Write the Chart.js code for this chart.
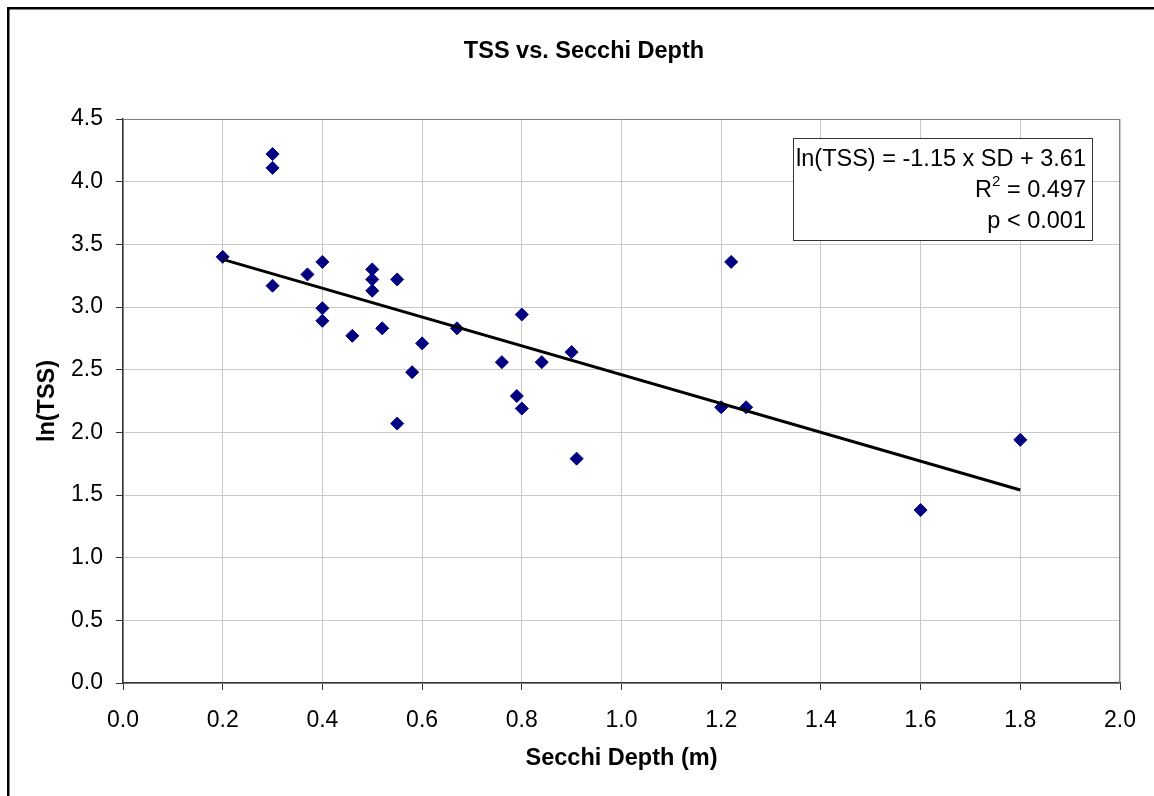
<!DOCTYPE html>
<html>
<head>
<meta charset="utf-8">
<script src="https://cdn.jsdelivr.net/npm/chart.js@4.4.0/dist/chart.umd.min.js"></script>
<style>
  body { margin: 0; background: #fff; }
  canvas { display: block; }
</style>
</head>
<body>
<canvas id="tssChart" width="1154" height="796"></canvas>
<script>
  const FONT = '"Liberation Sans", Arial, sans-serif';

  // observed points
  const secchiDepth = [0.2, 0.3, 0.3, 0.3, 0.37, 0.4, 0.4, 0.4, 0.46, 0.5, 0.5, 0.5, 0.52, 0.55, 0.55,
    0.58, 0.6, 0.67, 0.76, 0.79, 0.8, 0.8, 0.84, 0.9, 0.91, 1.2, 1.22, 1.25, 1.6, 1.8];
  const lnTSS = [3.40, 4.22, 4.11, 3.17, 3.26, 3.36, 2.99, 2.89, 2.77, 3.30, 3.22, 3.13, 2.83, 3.22, 2.07,
    2.48, 2.71, 2.83, 2.56, 2.29, 2.94, 2.19, 2.56, 2.64, 1.79, 2.20, 3.36, 2.20, 1.38, 1.94];

  // regression line end points
  const fitDepth = [0.2, 1.8];
  const fitLnTSS = [3.38, 1.54];

  const chartTitle = 'TSS vs. Secchi Depth';
  const fitEquation = 'ln(TSS) = -1.15 x SD + 3.61';
  const rSquared = '0.497';
  const pValue = 'p < 0.001';

  // frame, title and the stats box
  const extras = {
    id: 'extras',
    beforeDraw(chart) {
      const ctx = chart.ctx;
      ctx.save();
      ctx.fillStyle = '#fff';
      ctx.fillRect(0, 0, chart.width, chart.height);
      ctx.fillStyle = '#000';
      ctx.fillRect(7, 7, 2.5, chart.height);
      ctx.fillRect(7, 7, chart.width, 2.5);
      ctx.font = 'bold 23.5px ' + FONT;
      ctx.textAlign = 'center';
      ctx.textBaseline = 'middle';
      ctx.fillText(chartTitle, 584, 52);
      ctx.restore();
    },
    beforeDatasetsDraw(chart) {
      const { ctx, chartArea: a } = chart;
      ctx.save();
      ctx.strokeStyle = '#808080';
      ctx.lineWidth = 1;
      ctx.beginPath();
      ctx.moveTo(a.left, a.top + 0.5);
      ctx.lineTo(a.right - 0.5, a.top + 0.5);
      ctx.lineTo(a.right - 0.5, a.bottom);
      ctx.stroke();
      ctx.restore();
    },
    afterDraw(chart) {
      const ctx = chart.ctx;
      ctx.save();
      ctx.fillStyle = '#fff';
      ctx.fillRect(793, 138, 299, 102);
      ctx.strokeStyle = '#333';
      ctx.lineWidth = 1;
      ctx.strokeRect(793.5, 138.5, 299, 102);

      ctx.fillStyle = '#000';
      ctx.textBaseline = 'middle';
      ctx.textAlign = 'right';
      const rightX = 1086;
      ctx.font = '23.5px ' + FONT;
      ctx.fillText(fitEquation, rightX, 160);
      ctx.fillText(pValue, rightX, 222);

      // R² with a raised 2
      const rest = ' = ' + rSquared;
      const restW = ctx.measureText(rest).width;
      ctx.fillText(rest, rightX, 191);
      ctx.font = '15px ' + FONT;
      const supW = ctx.measureText('2').width;
      ctx.fillText('2', rightX - restW, 182);
      ctx.font = '23.5px ' + FONT;
      ctx.fillText('R', rightX - restW - supW, 191);
      ctx.restore();
    }
  };

  const tickFont = { family: FONT, size: 23 };
  const titleFont = { family: FONT, size: 23.5, weight: 'bold', lineHeight: 1.2 };

  new Chart(document.getElementById('tssChart'), {
    type: 'scatter',
    data: {
      datasets: [
        {
          type: 'line',
          data: fitDepth.map((x, i) => ({ x: x, y: fitLnTSS[i] })),
          borderColor: '#000',
          borderWidth: 3,
          pointRadius: 0,
          fill: false
        },
        {
          data: secchiDepth.map((x, i) => ({ x: x, y: lnTSS[i] })),
          pointStyle: 'rectRot',
          pointRadius: 6.5,
          backgroundColor: '#000080',
          borderColor: '#000080',
          borderWidth: 1
        }
      ]
    },
    options: {
      responsive: false,
      animation: false,
      layout: { padding: { top: 119, right: 34, left: 0, bottom: 0 } },
      plugins: {
        legend: { display: false },
        tooltip: { enabled: false },
        title: { display: false }
      },
      scales: {
        x: {
          type: 'linear',
          min: 0,
          max: 2,
          afterFit: s => { s.height = 113; },
          ticks: {
            stepSize: 0.2,
            autoSkip: false,
            maxRotation: 0,
            padding: 17,
            color: '#000',
            font: tickFont,
            callback: v => v.toFixed(1)
          },
          grid: { color: '#c8c8c8', tickColor: '#333', tickLength: 7 },
          border: { color: '#333', width: 1.5 },
          title: {
            display: true,
            text: 'Secchi Depth (m)',
            color: '#000',
            font: titleFont,
            padding: { top: 0, bottom: 23 }
          }
        },
        y: {
          min: 0,
          max: 4.5,
          afterFit: s => { s.width = 123; },
          ticks: {
            stepSize: 0.5,
            padding: 13,
            color: '#000',
            font: tickFont,
            callback: v => v.toFixed(1)
          },
          grid: { color: '#c8c8c8', tickColor: '#333', tickLength: 7 },
          border: { color: '#333', width: 1.5 },
          title: {
            display: true,
            text: 'ln(TSS)',
            color: '#000',
            font: titleFont,
            padding: { top: 33, bottom: 0 }
          }
        }
      }
    },
    plugins: [extras]
  });
</script>
</body>
</html>
